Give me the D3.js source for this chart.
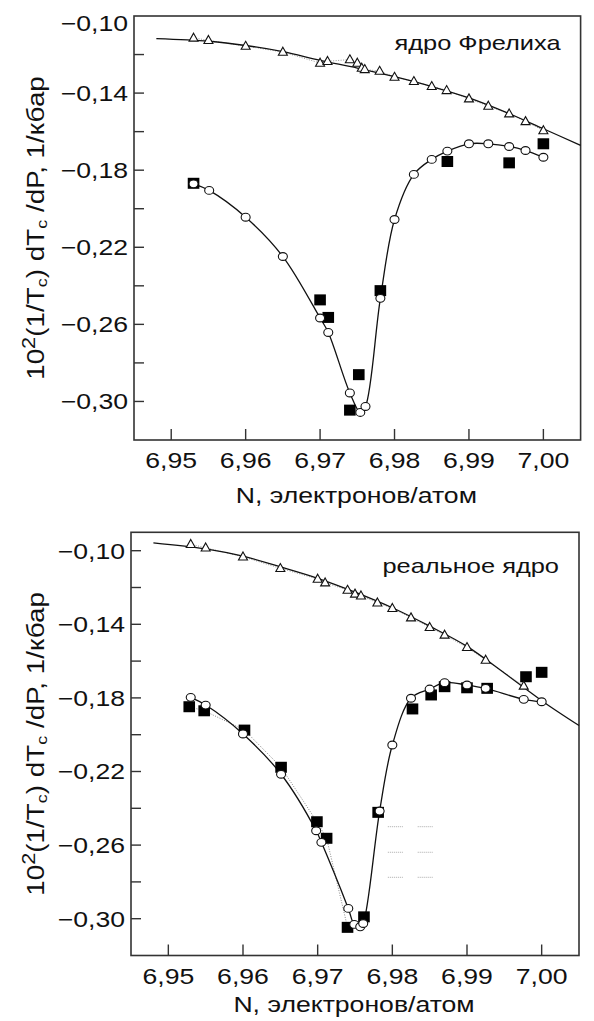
<!DOCTYPE html>
<html lang="ru">
<head>
<meta charset="utf-8">
<title>dTc/dP vs N</title>
<script src="https://cdn.jsdelivr.net/npm/d3@7"></script>
<style>
  html, body { margin: 0; padding: 0; background: #fff; }
  svg { display: block; font-family: "Liberation Sans", Arial, sans-serif; }
</style>
</head>
<body>
<div id="chart"></div>
<script>
// ---- data ----
var xTicks = [6.95, 6.96, 6.97, 6.98, 6.99, 7.00];
var yMajor = [-0.10, -0.14, -0.18, -0.22, -0.26, -0.30];
var yMinor = [-0.12, -0.16, -0.20, -0.24, -0.28];

// top panel: "ядро Фрелиха"
var topTriN = [6.953, 6.955, 6.960, 6.965, 6.970, 6.971, 6.974, 6.975, 6.9756, 6.976, 6.978, 6.980, 6.9826, 6.985, 6.987, 6.990, 6.9926, 6.9954, 6.9976, 7.000];
var topTriV = [-0.1114, -0.1126, -0.1156, -0.1187, -0.1244, -0.1235, -0.1226, -0.1244, -0.1270, -0.1277, -0.1286, -0.1317, -0.1339, -0.1365, -0.1386, -0.1429, -0.1467, -0.1507, -0.1547, -0.1594];
var topFitN = [6.948, 6.955, 6.960, 6.965, 6.970, 6.975, 6.980, 6.985, 6.990, 6.995, 7.000, 7.005];
var topFitV = [-0.1117, -0.1131, -0.1153, -0.1185, -0.1230, -0.1270, -0.1315, -0.1366, -0.1425, -0.1500, -0.1585, -0.1671];
var topCircN = [6.953, 6.9551, 6.960, 6.965, 6.970, 6.9711, 6.974, 6.9754, 6.9761, 6.9781, 6.980, 6.9826, 6.985, 6.9871, 6.990, 6.9926, 6.9954, 6.9976, 7.000];
var topCircV = [-0.1871, -0.1905, -0.2044, -0.2248, -0.2567, -0.2642, -0.2956, -0.3057, -0.3026, -0.2465, -0.2056, -0.1822, -0.1744, -0.1701, -0.1663, -0.1663, -0.1677, -0.1698, -0.1733];
var topSqN = [6.953, 6.970, 6.9711, 6.974, 6.9752, 6.9781, 6.9871, 6.9954, 7.000];
var topSqV = [-0.1868, -0.2473, -0.2564, -0.3045, -0.2861, -0.2425, -0.1755, -0.1762, -0.1663];

// bottom panel: "реальное ядро"
var botTriN = [6.953, 6.955, 6.960, 6.965, 6.970, 6.971, 6.974, 6.975, 6.9758, 6.978, 6.980, 6.9825, 6.985, 6.987, 6.990, 6.9925, 6.9976];
var botTriV = [-0.0965, -0.0984, -0.1033, -0.1096, -0.1154, -0.1174, -0.1214, -0.1235, -0.1245, -0.1283, -0.1313, -0.1364, -0.1416, -0.1458, -0.1525, -0.1594, -0.1735];
var botFitN = [6.948, 6.955, 6.960, 6.965, 6.970, 6.975, 6.980, 6.985, 6.990, 6.995, 7.000, 7.005];
var botFitV = [-0.0957, -0.0990, -0.1030, -0.1088, -0.1150, -0.1225, -0.1310, -0.1410, -0.1520, -0.1665, -0.1815, -0.1950];
var botCircN = [6.953, 6.955, 6.960, 6.9651, 6.9698, 6.9705, 6.9741, 6.9749, 6.9757, 6.9761, 6.9783, 6.980, 6.9825, 6.985, 6.987, 6.990, 6.9925, 6.9976, 7.000];
var botCircV = [-0.1797, -0.1839, -0.1996, -0.2215, -0.2522, -0.2585, -0.2944, -0.3031, -0.3044, -0.3026, -0.2415, -0.2056, -0.1802, -0.1752, -0.1717, -0.1730, -0.1748, -0.1808, -0.1821];
var botSqN = [6.9528, 6.9548, 6.9602, 6.9651, 6.9699, 6.9712, 6.974, 6.9762, 6.9781, 6.9827, 6.9852, 6.987, 6.990, 6.9927, 6.9979, 7.000];
var botSqV = [-0.1848, -0.1870, -0.1975, -0.2177, -0.2473, -0.2563, -0.3047, -0.2990, -0.2422, -0.1860, -0.1784, -0.1739, -0.1745, -0.1748, -0.1685, -0.1661];
// left-hand squares joined by the dotted line
var botSqDotCount = 7;
// stray dotted dashes (empty legend) in the bottom panel
var stubY = [-0.2500, -0.2639, -0.2775];
var stubX = [[6.9794, 6.9814], [6.9834, 6.9854]];

var W = 594, H = 1021;
var SX = 1.21;   // the typeface in the picture is wide

var svg = d3.select("#chart").append("svg")
  .attr("width", W).attr("height", H);

function zip(a, b) { return a.map(function(d, i) { return [d, b[i]]; }); }
function fmt(v) { return d3.format(".2f")(v).replace(".", ",").replace("-", "\u2212"); }

function txt(g, x, y, s, anchor, size) {
  return g.append("text")
    .attr("transform", "translate(" + x + "," + y + ") scale(" + SX + ",1)")
    .attr("text-anchor", anchor)
    .attr("font-size", size)
    .attr("fill", "#111")
    .text(s);
}

function drawPanel(p) {
  var g = svg.append("g");
  var x = d3.scaleLinear().domain([6.945, 7.005]).range([p.left, p.right]);
  var y = d3.scaleLinear().domain(p.yDomain).range([p.bottom, p.top]);

  // frame
  g.append("rect")
    .attr("x", p.left).attr("y", p.top)
    .attr("width", p.right - p.left).attr("height", p.bottom - p.top)
    .attr("fill", "none").attr("stroke", "#333").attr("stroke-width", 1.6);

  // ticks (inward)
  var yt = yMajor.concat(yMinor).filter(function(v) { return y(v) > p.top + 1; });
  g.selectAll(".yt").data(yt).enter().append("line")
    .attr("x1", p.left).attr("x2", p.left + 10)
    .attr("y1", function(d) { return y(d); }).attr("y2", function(d) { return y(d); })
    .attr("stroke", "#333").attr("stroke-width", 1.4);
  g.selectAll(".xt").data(xTicks).enter().append("line")
    .attr("x1", function(d) { return x(d); }).attr("x2", function(d) { return x(d); })
    .attr("y1", p.bottom).attr("y2", p.bottom - 11)
    .attr("stroke", "#333").attr("stroke-width", 1.4);

  yMajor.forEach(function(v) {
    var yy = y(v) + 7.9;
    if (y(v) < p.top + 3) yy += 7;
    txt(g, p.left - 6, yy, fmt(v), "end", 22);
  });
  xTicks.forEach(function(v) {
    txt(g, x(v), p.bottom + 28, fmt(v).replace("\u2212", ""), "middle", 22);
  });
  txt(g, (p.left + p.right) / 2 - 1, p.bottom + p.titleGap, "N, электронов/атом", "middle", 22);

  // y label
  var cy = (p.top + p.bottom) / 2;
  var yl = g.append("text")
    .attr("transform", "translate(43.5," + cy + ") rotate(-90) scale(" + SX + ",1)")
    .attr("text-anchor", "middle").attr("font-size", 23).attr("fill", "#111");
  yl.append("tspan").text("10");
  yl.append("tspan").attr("font-size", 18).attr("dy", -9).text("2");
  yl.append("tspan").attr("dy", 9).text("(1/T");
  yl.append("tspan").attr("font-size", 15).attr("dy", 3).text("c");
  yl.append("tspan").attr("dy", -3).text(") dT");
  yl.append("tspan").attr("font-size", 15).attr("dy", 3).text("c");
  yl.append("tspan").attr("dy", -3).text(" /dP, 1/кбар");

  txt(g, p.right - 20, p.labelY, p.label, "end", 21);

  var lin = d3.line().x(function(d) { return x(d[0]); }).y(function(d) { return y(d[1]); });
  var smooth = d3.line().curve(d3.curveCatmullRom.alpha(0.5))
    .x(function(d) { return x(d[0]); }).y(function(d) { return y(d[1]); });

  var tri = zip(p.triN, p.triV), fit = zip(p.fitN, p.fitV);
  var circ = zip(p.circN, p.circV), sq = zip(p.sqN, p.sqV);

  // faint dotted lines
  g.append("path").attr("d", lin(tri)).attr("fill", "none")
    .attr("stroke", "#999").attr("stroke-width", 1).attr("stroke-dasharray", "1,1.5");
  if (p.sqDot) {
    g.append("path").attr("d", lin(sq.slice(0, p.sqDot))).attr("fill", "none")
      .attr("stroke", "#888").attr("stroke-width", 1).attr("stroke-dasharray", "1,1.5");
  }
  if (p.stubs) {
    stubY.forEach(function(v) {
      stubX.forEach(function(r) {
        g.append("line").attr("x1", x(r[0])).attr("x2", x(r[1]))
          .attr("y1", y(v)).attr("y2", y(v))
          .attr("stroke", "#aaa").attr("stroke-width", 1).attr("stroke-dasharray", "1,1");
      });
    });
  }

  g.append("path").attr("d", smooth(fit)).attr("fill", "none")
    .attr("stroke", "#111").attr("stroke-width", 1.3);
  g.append("path").attr("d", smooth(circ)).attr("fill", "none")
    .attr("stroke", "#111").attr("stroke-width", 1.3);

  g.selectAll(".sq").data(sq).enter().append("rect")
    .attr("x", function(d) { return x(d[0]) - 5.8; })
    .attr("y", function(d) { return y(d[1]) - 5.5; })
    .attr("width", 11.6).attr("height", 11)
    .attr("fill", "#000");

  g.selectAll(".tri").data(tri).enter().append("path")
    .attr("transform", function(d) { return "translate(" + x(d[0]) + "," + y(d[1]) + ")"; })
    .attr("d", "M0,-4.8L4.5,3.2L-4.5,3.2Z")
    .attr("fill", "#fff").attr("stroke", "#111").attr("stroke-width", 1.1);

  g.selectAll(".circ").data(circ).enter().append("ellipse")
    .attr("cx", function(d) { return x(d[0]); })
    .attr("cy", function(d) { return y(d[1]); })
    .attr("rx", 4.5).attr("ry", 3.9)
    .attr("fill", "#fff").attr("stroke", "#111").attr("stroke-width", 1.1);
}

drawPanel({
  left: 134, right: 580.6, top: 16, bottom: 440, yDomain: [-0.32, -0.10],
  label: "ядро Фрелиха", labelY: 50, titleGap: 63,
  triN: topTriN, triV: topTriV, fitN: topFitN, fitV: topFitV,
  circN: topCircN, circV: topCircV, sqN: topSqN, sqV: topSqV
});
drawPanel({
  left: 131, right: 579, top: 532.3, bottom: 955.5, yDomain: [-0.32, -0.09],
  label: "реальное ядро", labelY: 572.5, titleGap: 56,
  triN: botTriN, triV: botTriV, fitN: botFitN, fitV: botFitV,
  circN: botCircN, circV: botCircV, sqN: botSqN, sqV: botSqV,
  sqDot: botSqDotCount, stubs: true
});
</script>
</body>
</html>
